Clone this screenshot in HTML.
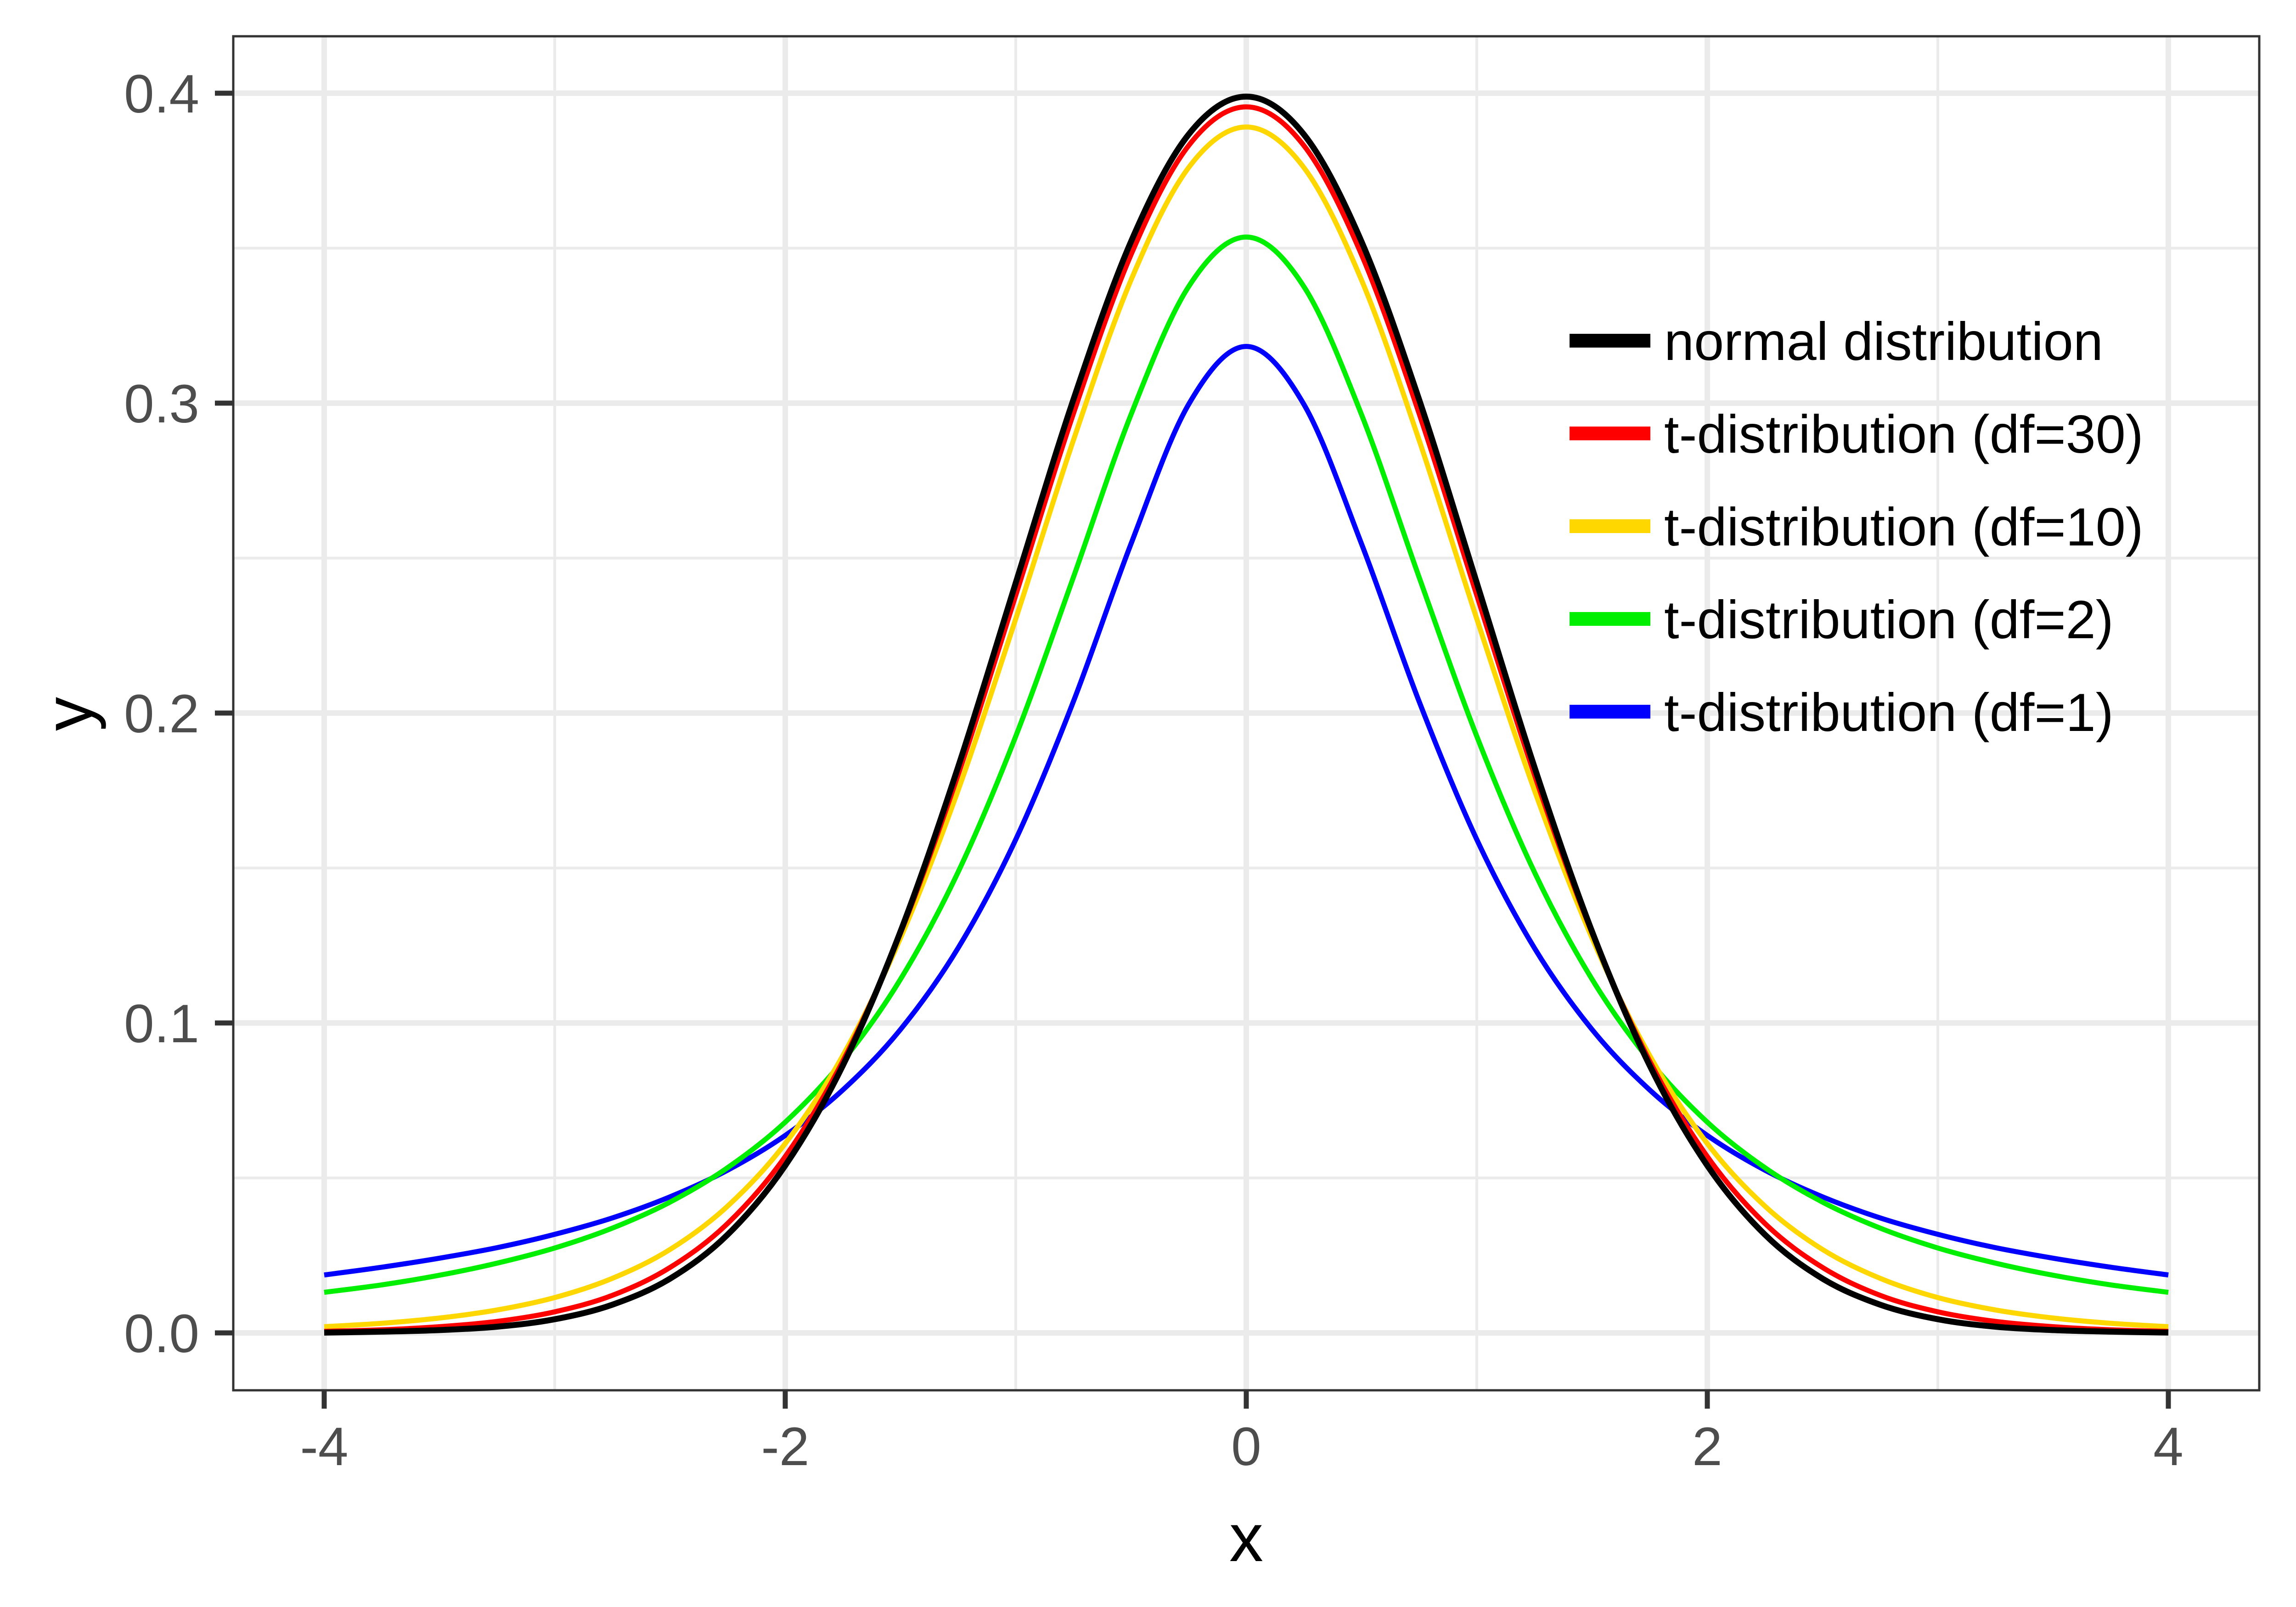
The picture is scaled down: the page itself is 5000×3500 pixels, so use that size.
<!DOCTYPE html>
<html><head><meta charset="utf-8"><style>
html,body{margin:0;padding:0;background:#fff;}
svg{display:block;font-family:"Liberation Sans",Arial,sans-serif;}
</style></head><body>
<svg id="chart" width="5000" height="3500" viewBox="0 0 5000 3500" xmlns="http://www.w3.org/2000/svg">
<rect x="0" y="0" width="5000" height="3500" fill="#fff"/>
<g id="grid"></g>
<g id="series"></g>
<rect x="508" y="79" width="4412" height="2949" fill="none" stroke="#333" stroke-width="5"/>
<g id="axes"></g>
<text x="2714" y="3400" font-size="148" text-anchor="middle" fill="#000">x</text>
<text x="0" y="0" font-size="148" text-anchor="middle" fill="#000" transform="translate(200,1555) rotate(-90)">y</text>
<g id="legend"></g>
</svg>
<script>
const xValues = [-4,-3.75,-3.5,-3.25,-3,-2.75,-2.5,-2.25,-2,-1.75,-1.5,-1.25,-1,-0.75,-0.5,-0.25,0,0.25,0.5,0.75,1,1.25,1.5,1.75,2,2.25,2.5,2.75,3,3.25,3.5,3.75,4];
const normalHalf = [0.3989,0.3867,0.3521,0.3011,0.2420,0.1826,0.1295,0.0863,0.0540,0.0317,0.0175,0.0091,0.0044,0.0020,0.0009,0.0004,0.0001];
const t30Half = [0.3956,0.3831,0.3479,0.2966,0.2380,0.1801,0.1290,0.0877,0.0569,0.0353,0.0211,0.0121,0.0068,0.0037,0.0020,0.0010,0.0005];
const t10Half = [0.3891,0.3760,0.3397,0.2880,0.2304,0.1751,0.1274,0.0895,0.0611,0.0409,0.0269,0.0176,0.0114,0.0074,0.0048,0.0031,0.0020];
const t2Half = [0.3536,0.3376,0.2963,0.2438,0.1925,0.1487,0.1141,0.0878,0.0680,0.0533,0.0422,0.0338,0.0274,0.0225,0.0186,0.0155,0.0131];
const t1Half = [0.3183,0.2996,0.2546,0.2037,0.1592,0.1242,0.0979,0.0784,0.0637,0.0525,0.0439,0.0371,0.0318,0.0275,0.0241,0.0212,0.0187];
const seriesNames = ["normal distribution","t-distribution (df=30)","t-distribution (df=10)","t-distribution (df=2)","t-distribution (df=1)"];
const xTicks = [-4,-2,0,2,4];
const xTickLabels = ["-4","-2","0","2","4"];
const yTicks = [0,0.1,0.2,0.3,0.4];
const yTickLabels = ["0.0","0.1","0.2","0.3","0.4"];
const xMinor = [-3,-1,1,3];
const yMinor = [0.05,0.15,0.25,0.35];

function sym(h){const a=h.slice().reverse();return a.concat(h.slice(1));}
const seriesValues=[sym(normalHalf),sym(t30Half),sym(t10Half),sym(t2Half),sym(t1Half)];
const colors=["#000000","#FF0000","#FFD700","#00EE00","#0000FF"];
const widths=[13,11,11,11,11];

const NS="http://www.w3.org/2000/svg";
const L=508,R=4920,T=79,B=3028;
function sx(v){return 2714+v*502;}
function sy(v){return 2903-v*6750;}
function mk(tag,attrs,parent){const e=document.createElementNS(NS,tag);for(const k in attrs)e.setAttribute(k,attrs[k]);parent.appendChild(e);return e;}

const grid=document.getElementById('grid');
xMinor.forEach(v=>{const e=mk('line',{x1:sx(v),x2:sx(v),y1:T,y2:B,stroke:'#EBEBEB','stroke-width':6},grid);

});
yMinor.forEach(v=>{const e=mk('line',{x1:L,x2:R,y1:sy(v),y2:sy(v),stroke:'#EBEBEB','stroke-width':6},grid);

});
xTicks.forEach(v=>{const e=mk('line',{x1:sx(v),x2:sx(v),y1:T,y2:B,stroke:'#EBEBEB','stroke-width':12},grid);

});
yTicks.forEach(v=>{const e=mk('line',{x1:L,x2:R,y1:sy(v),y2:sy(v),stroke:'#EBEBEB','stroke-width':12},grid);

});

function pathFor(vals){
  const p=xValues.map((x,i)=>[sx(x),sy(vals[i])]);
  let d='M'+p[0][0]+','+p[0][1];
  for(let i=0;i<p.length-1;i++){
    const p0=p[Math.max(0,i-1)],p1=p[i],p2=p[i+1],p3=p[Math.min(p.length-1,i+2)];
    const c1x=p1[0]+(p2[0]-p0[0])/6,c1y=p1[1]+(p2[1]-p0[1])/6;
    const c2x=p2[0]-(p3[0]-p1[0])/6,c2y=p2[1]-(p3[1]-p1[1])/6;
    d+=' C'+c1x.toFixed(1)+','+c1y.toFixed(1)+' '+c2x.toFixed(1)+','+c2y.toFixed(1)+' '+p2[0].toFixed(1)+','+p2[1].toFixed(1);
  }
  return d;
}
const sg=document.getElementById('series');
const slugs=['normal','t-df30','t-df10','t-df2','t-df1'];
for(let s=4;s>=0;s--){
  const e=mk('path',{d:pathFor(seriesValues[s]),fill:'none',stroke:colors[s],'stroke-width':widths[s],'stroke-linejoin':'round'},sg);
  
  
}

const ax=document.getElementById('axes');
xTicks.forEach((v,i)=>{
  const t=mk('line',{x1:sx(v),x2:sx(v),y1:B,y2:B+40,stroke:'#333','stroke-width':11},ax);
  
  
  const l=mk('text',{x:sx(v),y:3191,'font-size':118,'text-anchor':'middle',fill:'#4D4D4D'},ax);
  l.textContent=xTickLabels[i];
  
  
});
yTicks.forEach((v,i)=>{
  const t=mk('line',{x1:L-40,x2:L,y1:sy(v),y2:sy(v),stroke:'#333','stroke-width':11},ax);
  
  
  const l=mk('text',{x:434,y:sy(v)+42,'font-size':118,'text-anchor':'end',fill:'#4D4D4D'},ax);
  l.textContent=yTickLabels[i];
  
  
});

const lg=document.getElementById('legend');
seriesNames.forEach((n,i)=>{
  const cy=742+i*202;
  const k=mk('line',{x1:3418,x2:3594,y1:cy,y2:cy,stroke:colors[i],'stroke-width':30},lg);
  
  
  const t=mk('text',{x:3624,y:cy+42,'font-size':117,fill:'#000'},lg);
  t.textContent=n;
  
  
});
</script>
</body></html>
